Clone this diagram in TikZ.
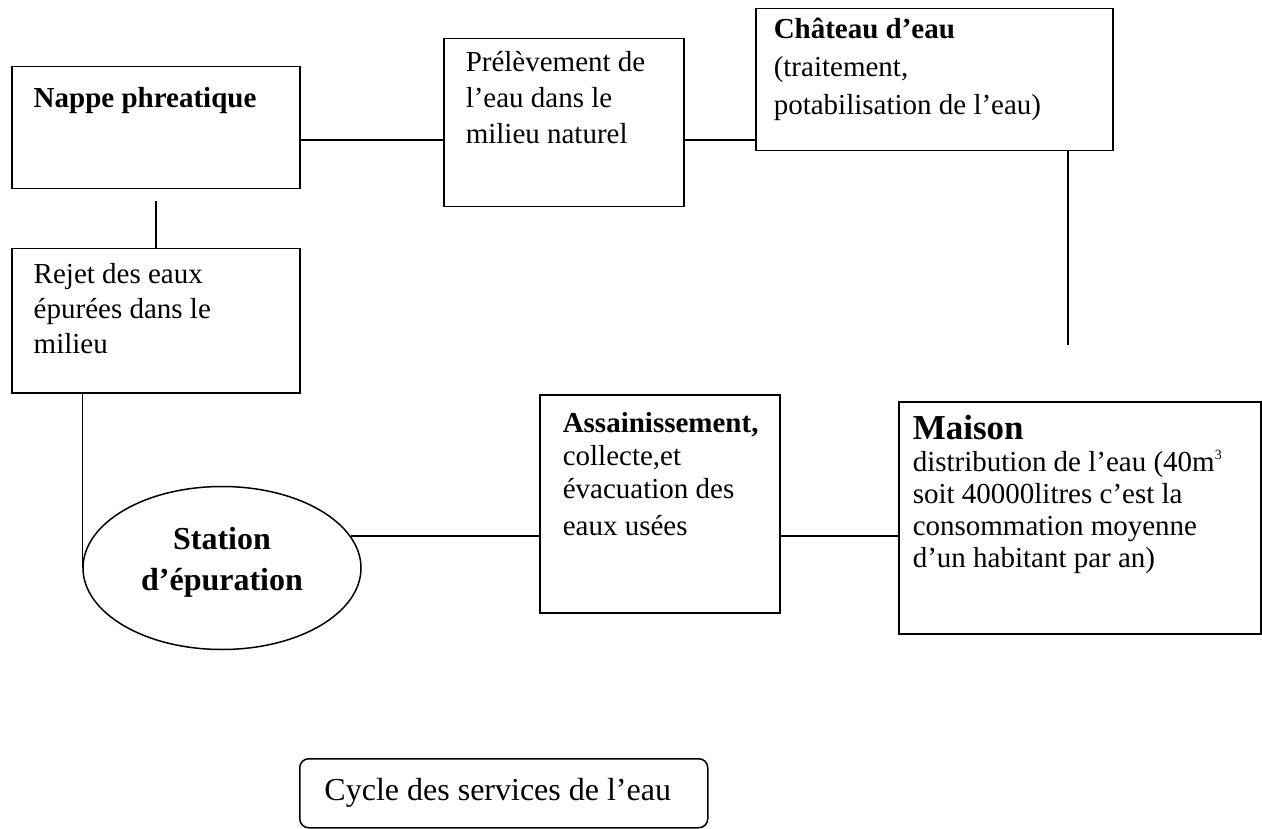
\documentclass[tikz,border=0pt]{standalone}
\usepackage{fontspec}
\setmainfont{Liberation Serif}
\usetikzlibrary{shapes.geometric}
% W, H, left pad, first baseline, baselineskip, content
\newcommand{\bxt}[6]{%
  \begin{minipage}[c][#2][t]{#1}%
  \fontsize{29pt}{#5}\selectfont\lineskiplimit=-100pt\relax
  \leftskip=#3\relax\rightskip=0pt plus 1fil\relax\parindent=0pt\relax
  \rule{0pt}{#4}#6\end{minipage}}
\newcommand{\supthree}{\raisebox{12pt}{\fontsize{14pt}{14pt}\selectfont 3}}
\tikzset{
  boxnode/.style={draw, line width=1.5pt, inner sep=0pt, anchor=north west},
  conn/.style={line width=1.5pt},
}
\begin{document}
\begin{tikzpicture}[x=1pt, y=-1pt]
\useasboundingbox (0,0) rectangle (1262,829);
\fill[white] (0,0) rectangle (1262,829);

\node[boxnode] (nappe) at (11,66)
  {\bxt{288pt}{122pt}{22pt}{41pt}{36pt}{\textbf{Nappe phreatique}}};
\node[boxnode] (prel) at (443,38)
  {\bxt{240pt}{168pt}{22pt}{33pt}{36pt}{Prélèvement de\\l’eau dans le\\milieu naturel}};
\node[boxnode] (chateau) at (755,8)
  {\bxt{357pt}{142pt}{18pt}{30pt}{38pt}{\textbf{Château d’eau}\\(traitement,\\potabilisation de l’eau)}};
\node[boxnode] (rejet) at (11,248)
  {\bxt{288pt}{144pt}{22pt}{35pt}{35pt}{Rejet des eaux\\épurées dans le\\milieu}};
\node[boxnode] (assain) at (539,394)
  {\bxt{240pt}{218pt}{23pt}{38pt}{33pt}{\textbf{Assainissement,}\\collecte,et\\évacuation des\\[4pt]eaux usées}};
\node[boxnode] (maison) at (898,401)
  {\bxt{362pt}{232pt}{14pt}{38pt}{32pt}{{\fontsize{35pt}{32pt}\selectfont\textbf{Maison}}\\distribution de l’eau (40m\supthree\\soit 40000litres c’est la\\consommation moyenne\\d’un habitant par an)}};
\node[draw, line width=1.5pt, ellipse, minimum width=278pt, minimum height=163pt, inner sep=0pt]
  (station) at (222,568)
  {\fontsize{32pt}{41pt}\selectfont\bfseries\raisebox{0pt}[30pt][30pt]{\begin{tabular}{@{}c@{}}Station\\d’épuration\end{tabular}}};
\node[draw, line width=1.5pt, rounded corners=9pt, anchor=north west, minimum width=408pt,
  minimum height=69pt, inner sep=0pt, font=\fontsize{32pt}{38pt}\selectfont]
  (cycle) at (299,758) {Cycle des services de l’eau\hspace*{12pt}};

\coordinate (row1) at (0,140);
\coordinate (cmend) at (1068,345);

\draw[conn] (row1 -| nappe.east) -- (row1 -| prel.west);
\draw[conn] (row1 -| prel.east) -- (row1 -| chateau.west);
\draw[conn] (chateau.south -| cmend) -- (cmend);
\draw[conn] ([yshift=-12pt]nappe.south) -- (rejet.north);
\draw[conn] (station.west |- rejet.south) -- (station.west);
\draw[conn] (station.14) -- (station.14 -| assain.west);
\draw[conn] (station.14 -| assain.east) -- (station.14 -| maison.west);
\end{tikzpicture}
\end{document}
